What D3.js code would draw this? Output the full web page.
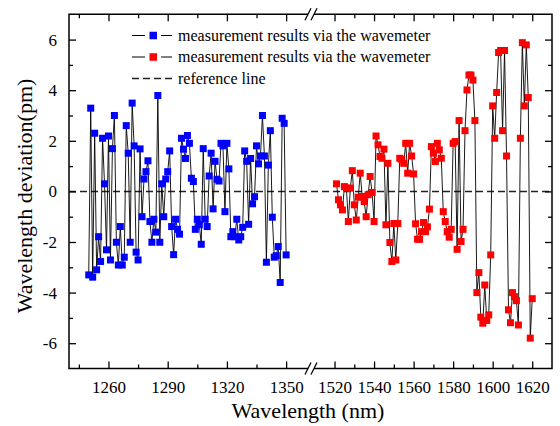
<!DOCTYPE html>
<html><head><meta charset="utf-8">
<script src="https://cdn.jsdelivr.net/npm/d3@7"></script>
<style>
html,body{margin:0;padding:0;background:#fff;}
svg{display:block;}
svg text{font-family:"Liberation Serif","Times New Roman",Tinos,"DejaVu Serif",serif !important;}
</style>
</head><body>
<svg id="c" width="560" height="426"></svg>
<script>
// ---- data ----
const blueStart = 1250;
const blueValues = [-3.30,3.29,-3.39,2.30,-3.10,-1.79,-2.77,2.10,0.30,-2.31,
2.19,-2.71,1.69,3.00,-2.01,-2.91,-1.39,-2.91,-2.60,2.60,
1.51,-2.01,3.49,1.80,-2.40,-2.71,1.68,-1.00,0.49,0.78,
1.21,-1.19,-2.01,-1.10,-1.61,3.79,-2.01,0.30,-1.00,0.49,
0.78,1.60,-1.39,-2.50,-1.10,-1.50,-1.69,2.10,1.67,1.30,
2.21,1.90,0.52,0.39,-1.50,-1.10,-1.32,-2.09,1.69,-1.10,
-1.39,0.61,1.51,-0.69,1.19,0.48,0.41,1.90,1.80,-0.80,
1.90,0.89,-1.79,-1.59,-1.79,-1.10,-1.92,-1.79,-1.42,1.60,
1.19,-1.30,1.30,-0.49,-0.21,1.80,1.09,1.40,3.00,1.40,
-2.80,1.04,2.40,-1.02,-2.60,-2.54,-2.18,-3.60,2.89,2.69,-2.51];
const redStart = 1521;
const redValues = [0.30,-0.33,-0.53,-0.73,0.19,0.13,-1.19,0.13,0.82,-0.53,
-1.13,-0.23,0.72,-0.20,-0.40,-1.00,-0.13,0.59,-0.04,-1.19,
2.19,1.84,1.38,1.31,1.67,-1.32,1.11,-2.02,-2.77,-1.27,
-2.71,-1.27,1.31,1.26,1.11,1.90,0.72,1.90,1.40,0.69,
-1.28,-1.89,-1.89,-1.59,-1.23,-1.59,-1.40,-0.70,1.77,1.51,
1.18,1.90,1.64,1.31,-0.80,-1.19,-1.59,-1.81,-1.50,1.90,
1.97,-2.29,2.80,-1.98,-1.50,2.40,4.01,4.60,4.60,4.40,
2.80,-4.00,-3.21,-4.97,-5.21,-3.70,-5.10,-4.88,-2.51,3.38,
2.10,3.91,5.49,5.57,2.40,5.57,1.40,-4.68,-5.19,-4.00,
-4.16,-4.32,-5.28,2.10,5.88,3.38,5.79,3.71,-5.80,-4.24];
const blueWavelengths = blueValues.map((v,i)=>blueStart+i);
const redWavelengths = redValues.map((v,i)=>redStart+i);
const xTicksLeft = [1260,1290,1320,1350];
const xMinorLeft = [1245,1275,1305,1335];
const xTicksRight = [1520,1540,1560,1580,1600,1620];
const xMinorRight = [1530,1550,1570,1590,1610];
const yTicks = [-6,-4,-2,0,2,4,6];
const yMinor = [-5,-3,-1,1,3,5];
const legendLabels = ["measurement results via the wavemeter","measurement results via the wavemeter","reference line"];
const xTitle = "Wavelength (nm)";
const yTitle = "Wavelength deviation(pm)";

// ---- layout ----
const L=69, R=552, T=14.3, B=368.5, BRK=311, GAP=3;
const xL = d3.scaleLinear().domain([1240,1362.6]).range([L,BRK]);
const xR = d3.scaleLinear().domain([1508.1,1630]).range([BRK,R]);
const y = d3.scaleLinear().domain([-7,7]).range([B,T]);
const svg = d3.select("#c");
const fmt = d => String(d);

// reference line
svg.append("line").attr("x1",L).attr("x2",R).attr("y1",y(0)).attr("y2",y(0))
  .attr("stroke","#222").attr("stroke-width",1.5).attr("stroke-dasharray","7,4");

function series(xs, vals, sc, color){
  const pts = xs.map((w,i)=>[sc(w), y(vals[i])]);
  svg.append("path").attr("d", d3.line()(pts)).attr("fill","none")
    .attr("stroke","#000").attr("stroke-width",0.9);
  svg.append("g").selectAll("rect").data(pts).join("rect")
    .attr("x",d=>d[0]-3.5).attr("y",d=>d[1]-3.5).attr("width",7).attr("height",7)
    .attr("fill",color);
}
series(blueWavelengths, blueValues, xL, "#0000ff");
series(redWavelengths, redValues, xR, "#ff0000");

// axes ticks
function axisG(gen, tx, ty){
  const g = svg.append("g").attr("transform",`translate(${tx},${ty})`).call(gen);
  g.select(".domain").remove();
  g.selectAll("line").attr("stroke","#000").attr("stroke-width",1.3);
  g.selectAll("text").attr("font-size",17).attr("fill","#000");
  return g;
}
const ltick = (sc,vals,size,lab)=>d3.axisBottom(sc).tickValues(vals).tickSizeInner(-size).tickSizeOuter(0).tickPadding(lab?12:0).tickFormat(lab?fmt:"");
axisG(ltick(xL,xTicksLeft,7,true),0,B);
axisG(ltick(xL,xMinorLeft,4,false),0,B);
axisG(ltick(xR,xTicksRight,7,true),0,B);
axisG(ltick(xR,xMinorRight,4,false),0,B);
const ttick = (sc,vals,size)=>d3.axisTop(sc).tickValues(vals).tickSizeInner(-size).tickSizeOuter(0).tickFormat("");
axisG(ttick(xL,xTicksLeft,7),0,T);
axisG(ttick(xL,xMinorLeft,4),0,T);
axisG(ttick(xR,xTicksRight,7),0,T);
axisG(ttick(xR,xMinorRight,4),0,T);
axisG(d3.axisLeft(y).tickValues(yTicks).tickSizeInner(-7).tickSizeOuter(0).tickPadding(12).tickFormat(fmt),L,0);
axisG(d3.axisLeft(y).tickValues(yMinor).tickSizeInner(-4).tickSizeOuter(0).tickFormat(""),L,0);
axisG(d3.axisRight(y).tickValues(yTicks).tickSizeInner(-7).tickSizeOuter(0).tickFormat(""),R,0);
axisG(d3.axisRight(y).tickValues(yMinor).tickSizeInner(-4).tickSizeOuter(0).tickFormat(""),R,0);

// frame with break
const fr = svg.append("g").attr("stroke","#000").attr("stroke-width",1.5).attr("fill","none");
fr.append("path").attr("d",`M${BRK-GAP},${T}H${L}V${B}H${BRK-GAP}`);
fr.append("path").attr("d",`M${BRK+GAP},${T}H${R}V${B}H${BRK+GAP}`);
[T,B].forEach(yy=>{
  [-GAP,GAP].forEach(dx=>{
    fr.append("line").attr("x1",BRK+dx-3).attr("y1",yy+6).attr("x2",BRK+dx+3).attr("y2",yy-6)
      .attr("stroke-width",1.2);
  });
});

// legend
const lg = svg.append("g");
const rows=[35.5,57,78.5];
["#0000ff","#ff0000"].forEach((c,i)=>{
  const yy=rows[i];
  lg.append("line").attr("x1",132).attr("x2",145).attr("y1",yy).attr("y2",yy).attr("stroke","#000").attr("stroke-width",1);
  lg.append("line").attr("x1",161).attr("x2",172).attr("y1",yy).attr("y2",yy).attr("stroke","#000").attr("stroke-width",1);
  lg.append("rect").attr("x",149.5).attr("y",yy-3.75).attr("width",7.5).attr("height",7.5).attr("fill",c);
});
lg.append("line").attr("x1",132).attr("x2",172).attr("y1",rows[2]).attr("y2",rows[2])
  .attr("stroke","#222").attr("stroke-width",1.5).attr("stroke-dasharray","7,4");
legendLabels.forEach((t,i)=>{
  lg.append("text").attr("x",178).attr("y",rows[i]+5).attr("font-size",16).text(t);
});

// titles
svg.append("text").attr("x",308).attr("y",418).attr("text-anchor","middle")
  .attr("font-size",22).text(xTitle);
svg.append("text").attr("transform","translate(32,196) rotate(-90)").attr("text-anchor","middle")
  .attr("font-size",22).text(yTitle);
</script>
</body></html>
